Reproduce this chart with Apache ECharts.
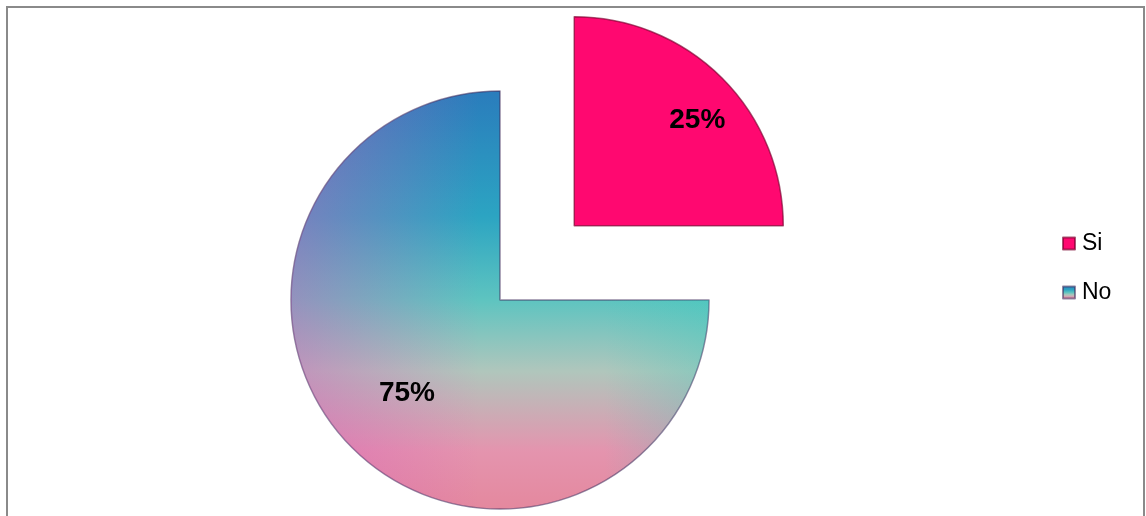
<!DOCTYPE html>
<html>
<head>
<meta charset="utf-8">
<title>Si / No</title>
<script src="https://cdn.jsdelivr.net/npm/echarts@6/dist/echarts.min.js"></script>
<style>
  html, body { margin: 0; padding: 0; background: #ffffff; }
  #chart { width: 1146px; height: 516px; }
</style>
</head>
<body>
<div id="chart"></div>
<script>
// Answers and their shares
const categories = ['Si', 'No'];
const values = [25, 75];

// Label nudges (px) applied after the library places each inside label
const labelShift = [[47, -29], [-17, 17]];

const siColor = '#ff0870';
const noColor = {
  type: 'linear', x: 0, y: 0, x2: 0, y2: 1,
  colorStops: [
    { offset: 0.00, color: '#2a7cbc' },
    { offset: 0.30, color: '#2ca4c2' },
    { offset: 0.50, color: '#5ec4c0' },
    { offset: 0.67, color: '#b0c6bc' },
    { offset: 0.86, color: '#e494ae' },
    { offset: 1.00, color: '#e4889e' }
  ]
};
// side tint: magenta on the left, teal on the right
const noTint = {
  type: 'linear', x: 0, y: 0, x2: 1, y2: 0,
  colorStops: [
    { offset: 0.00, color: 'rgba(214,86,186,0.45)' },
    { offset: 0.45, color: 'rgba(214,86,186,0)' },
    { offset: 0.75, color: 'rgba(50,205,190,0)' },
    { offset: 1.00, color: 'rgba(50,205,190,0.30)' }
  ]
};
const fills = [siColor, noColor];
const tints = ['rgba(0,0,0,0)', noTint];
const rims = ['rgba(120,0,45,0.65)', 'rgba(60,40,90,0.55)'];

const pieCenter = [500, 300];
const pieRadius = 209;
const explode = 105;

const chart = echarts.init(document.getElementById('chart'), null, { renderer: 'canvas' });

chart.setOption({
  animation: false,
  backgroundColor: '#ffffff',
  graphic: [{
    type: 'rect',
    shape: { x: 7, y: 7, width: 1137, height: 520 },
    style: { fill: 'none', stroke: '#8a8a8a', lineWidth: 2 },
    silent: true,
    z: -1
  }],
  legend: {
    orient: 'vertical',
    left: 1057,
    top: 227,
    data: categories,
    itemWidth: 12,
    itemHeight: 12,
    itemGap: 26,
    selectedMode: false,
    icon: 'rect',
    textStyle: {
      fontFamily: 'Liberation Sans, Arial, sans-serif',
      fontSize: 23,
      color: '#000000',
      padding: [0, 0, 0, 2]
    }
  },
  series: [
    {
      type: 'pie',
      name: 'Respuestas',
      center: pieCenter,
      radius: pieRadius,
      startAngle: 90,
      clockwise: true,
      selectedMode: 'single',
      selectedOffset: explode,
      emphasis: { disabled: true },
      label: { show: false },
      labelLine: { show: false },
      data: categories.map(function (name, i) {
        return {
          name: name,
          value: values[i],
          selected: i === 0,
          itemStyle: { color: fills[i], borderColor: rims[i], borderWidth: 1.5 }
        };
      })
    },
    {
      // colour wash over the same slices; carries the percentage labels
      type: 'pie',
      name: 'tint',
      silent: true,
      center: pieCenter,
      radius: pieRadius,
      startAngle: 90,
      clockwise: true,
      selectedMode: 'single',
      selectedOffset: explode,
      emphasis: { disabled: true },
      labelLine: { show: false },
      label: {
        show: true,
        position: 'inside',
        formatter: '{d}%',
        fontFamily: 'Liberation Sans, Arial, sans-serif',
        fontWeight: 'bold',
        fontSize: 28,
        color: '#000000'
      },
      labelLayout: function (p) {
        const s = labelShift[p.dataIndex];
        return { dx: s[0], dy: s[1] };
      },
      z: 3,
      data: categories.map(function (name, i) {
        return {
          name: name,
          value: values[i],
          selected: i === 0,
          itemStyle: { color: tints[i], borderWidth: 0 }
        };
      })
    }
  ]
});
</script>
</body>
</html>
